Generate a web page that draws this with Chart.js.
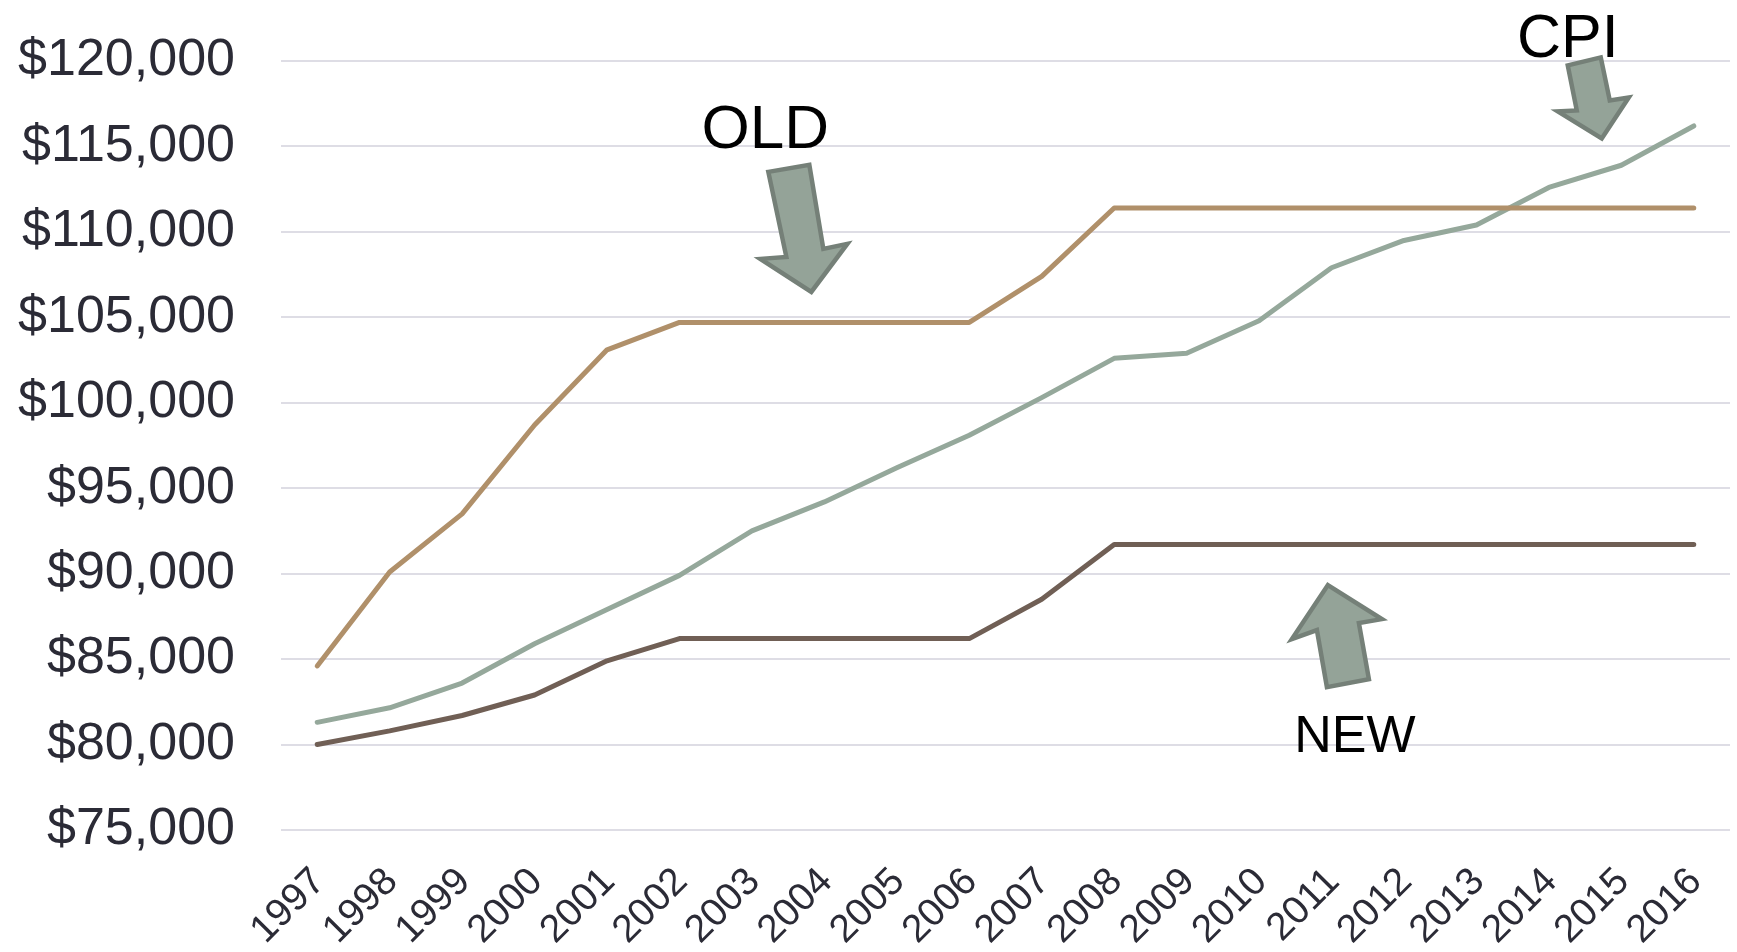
<!DOCTYPE html>
<html>
<head>
<meta charset="utf-8">
<script src="https://cdn.jsdelivr.net/npm/chart.js@4"></script>
<style>
  html, body { margin: 0; padding: 0; background: #fff; }
  #wrap { width: 1737px; height: 952px; }
</style>
</head>
<body>
<div id="wrap"><canvas id="chart" width="1737" height="952"></canvas></div>
<script>
// years on the x axis
const years = ['1997', '1998', '1999', '2000', '2001', '2002', '2003', '2004', '2005', '2006',
  '2007', '2008', '2009', '2010', '2011', '2012', '2013', '2014', '2015', '2016'];

// series
const oldValues = [84600, 90100, 93500, 98700, 103100, 104700, 104700, 104700, 104700, 104700,
  107400, 111400, 111400, 111400, 111400, 111400, 111400, 111400, 111400, 111400];
const cpiValues = [81300, 82150, 83600, 85900, 87900, 89900, 92500, 94200, 96200, 98100,
  100300, 102600, 102900, 104800, 107900, 109500, 110400, 112600, 113900, 116200];
const newValues = [80000, 80800, 81700, 82900, 84900, 86200, 86200, 86200, 86200, 86200,
  88500, 91700, 91700, 91700, 91700, 91700, 91700, 91700, 91700, 91700];

// y axis range
const yMin = 75000;
const yMax = 120000;
const yStep = 5000;

// callouts: arrow tip in data space (category index, value), shape in pixels around the tip
const callouts = [
  {
    text: 'OLD', at: [6.82, 106490], font: 62, textDx: -46, textDy: -144,
    shape: [[-43, -120], [-2, -127], [12, -43], [36, -48], [0, 0], [-51, -33], [-25, -35]]
  },
  {
    text: 'CPI', at: [17.73, 115470], font: 61, textDx: -34, textDy: -81,
    shape: [[-34, -73], [-1, -81], [8, -38], [27, -41], [0, 0], [-44, -27], [-25, -28]]
  },
  {
    text: 'NEW', at: [13.95, 89330], font: 52, textDx: 27, textDy: 167,
    shape: [[0, 0], [54, 34], [31, 38], [41, 94], [-1, 102], [-11, 45], [-36, 54]]
  }
];

const calloutPlugin = {
  id: 'callouts',
  afterDatasetsDraw(chart) {
    const ctx = chart.ctx;
    const xs = chart.scales.x;
    const ys = chart.scales.y;
    callouts.forEach(c => {
      const tx = xs.getPixelForValue(c.at[0]);
      const ty = ys.getPixelForValue(c.at[1]);
      ctx.save();
      ctx.beginPath();
      c.shape.forEach((p, i) => {
        if (i === 0) ctx.moveTo(tx + p[0], ty + p[1]);
        else ctx.lineTo(tx + p[0], ty + p[1]);
      });
      ctx.closePath();
      ctx.fillStyle = '#94a398';
      ctx.fill();
      ctx.lineWidth = 4.5;
      ctx.strokeStyle = '#758078';
      ctx.lineJoin = 'miter';
      ctx.stroke();

      ctx.fillStyle = '#000';
      ctx.font = c.font + 'px "Liberation Sans", Arial, sans-serif';
      ctx.textAlign = 'center';
      ctx.textBaseline = 'alphabetic';
      ctx.fillText(c.text, tx + c.textDx, ty + c.textDy);
      ctx.restore();
    });
  }
};

const lineStyle = {
  borderWidth: 5,
  pointRadius: 0,
  tension: 0,
  borderCapStyle: 'round',
  borderJoinStyle: 'round',
  fill: false
};

new Chart(document.getElementById('chart'), {
  type: 'line',
  data: {
    labels: years,
    datasets: [
      Object.assign({ label: 'OLD', data: oldValues, borderColor: '#b0906a' }, lineStyle),
      Object.assign({ label: 'NEW', data: newValues, borderColor: '#705f55' }, lineStyle),
      Object.assign({ label: 'CPI', data: cpiValues, borderColor: '#95a89b' }, lineStyle)
    ]
  },
  options: {
    responsive: false,
    animation: false,
    layout: { padding: { top: 61, right: 7, bottom: 0, left: 0 } },
    plugins: {
      legend: { display: false },
      tooltip: { enabled: false }
    },
    scales: {
      x: {
        offset: true,
        grid: { display: false },
        border: { display: false },
        ticks: {
          color: '#2b2b36',
          font: { family: '"Liberation Sans", Arial, sans-serif', size: 39 },
          minRotation: 45,
          maxRotation: 45,
          autoSkip: false,
          padding: 21,
          labelOffset: 2
        },
        afterFit(scale) {
          scale.height = 122;
          scale.paddingLeft = 0;
          scale.paddingRight = 0;
        }
      },
      y: {
        min: yMin,
        max: yMax,
        grid: { color: '#dedde5', lineWidth: 2, drawTicks: false },
        border: { display: false },
        ticks: {
          stepSize: yStep,
          color: '#2b2b36',
          font: { family: '"Liberation Sans", Arial, sans-serif', size: 52 },
          padding: 46,
          callback: v => '$' + v.toLocaleString('en-US')
        },
        afterFit(scale) {
          scale.width = 281;
          scale.paddingTop = 0;
          scale.paddingBottom = 0;
        }
      }
    }
  },
  plugins: [calloutPlugin]
});
</script>
</body>
</html>
